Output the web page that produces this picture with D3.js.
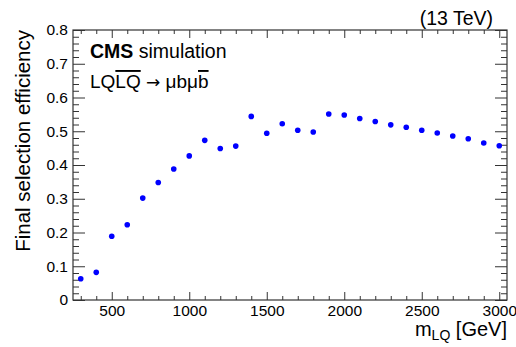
<!DOCTYPE html>
<html>
<head>
<meta charset="utf-8">
<script src="https://cdn.jsdelivr.net/npm/d3@7"></script>
<style>
  body { margin: 0; background: #fff; }
  svg text { font-family: "Liberation Sans", Arial, sans-serif; fill: #000; }
</style>
</head>
<body>
<div id="chart"></div>
<script>
// LQ mass points (GeV) and the final selection efficiency at each one
var masses = [300, 400, 500, 600, 700, 800, 900, 1000, 1100, 1200, 1300, 1400, 1500, 1600,
              1700, 1800, 1900, 2000, 2100, 2200, 2300, 2400, 2500, 2600, 2700, 2800, 2900, 3000];
var efficiency = [0.063, 0.082, 0.189, 0.223, 0.302, 0.348, 0.388, 0.427, 0.473, 0.449, 0.456, 0.544, 0.494, 0.522,
                  0.503, 0.498, 0.551, 0.548, 0.538, 0.529, 0.519, 0.512, 0.503, 0.495, 0.486, 0.478, 0.465, 0.457];

var xMajor = [500, 1000, 1500, 2000, 2500, 3000];
var xMinor = [300, 400, 600, 700, 800, 900, 1100, 1200, 1300, 1400, 1600, 1700, 1800, 1900,
              2100, 2200, 2300, 2400, 2600, 2700, 2800, 2900];
var yMajor = [0, 0.1, 0.2, 0.3, 0.4, 0.5, 0.6, 0.7, 0.8];
var yMinor = [0.02, 0.04, 0.06, 0.08, 0.12, 0.14, 0.16, 0.18, 0.22, 0.24, 0.26, 0.28,
              0.32, 0.34, 0.36, 0.38, 0.42, 0.44, 0.46, 0.48, 0.52, 0.54, 0.56, 0.58,
              0.62, 0.64, 0.66, 0.68, 0.72, 0.74, 0.76, 0.78];

var W = 516, H = 347;
var margin = {top: 30, right: 9, bottom: 47, left: 73};
var width = W - margin.left - margin.right;
var height = H - margin.top - margin.bottom;

var svg = d3.select("#chart").append("svg")
    .attr("width", W)
    .attr("height", H);

var g = svg.append("g")
    .attr("transform", "translate(" + margin.left + "," + margin.top + ")");

var x = d3.scaleLinear().domain([250, 3050]).range([0, width]);
var y = d3.scaleLinear().domain([0, 0.8]).range([height, 0]);

// helper: add an axis with ticks pointing into the frame
function addAxis(axis, transform) {
  var a = g.append("g")
      .attr("class", "axis")
      .attr("transform", transform || null)
      .call(axis);
  a.select(".domain").remove();
  return a;
}

// bottom
addAxis(d3.axisBottom(x).tickValues(xMajor).tickSize(-8).tickSizeOuter(0).tickPadding(5).tickFormat(d3.format("d")),
        "translate(0," + height + ")")
  .selectAll("text").style("font-size", "15.5px");
addAxis(d3.axisBottom(x).tickValues(xMinor).tickSize(-4).tickSizeOuter(0).tickFormat(""), "translate(0," + height + ")");
// top
addAxis(d3.axisTop(x).tickValues(xMajor).tickSize(-8).tickSizeOuter(0).tickFormat(""));
addAxis(d3.axisTop(x).tickValues(xMinor).tickSize(-4).tickSizeOuter(0).tickFormat(""));
// left
addAxis(d3.axisLeft(y).tickValues(yMajor).tickSize(-12).tickSizeOuter(0).tickPadding(5)
    .tickFormat(function(d) { return d === 0 ? "0" : d3.format(".1f")(d); }))
  .selectAll("text").style("font-size", "15.5px");
addAxis(d3.axisLeft(y).tickValues(yMinor).tickSize(-6).tickSizeOuter(0).tickFormat(""));
// right
addAxis(d3.axisRight(y).tickValues(yMajor).tickSize(-12).tickSizeOuter(0).tickFormat(""), "translate(" + width + ",0)");
addAxis(d3.axisRight(y).tickValues(yMinor).tickSize(-6).tickSizeOuter(0).tickFormat(""), "translate(" + width + ",0)");

g.selectAll(".axis line").attr("stroke", "#333");

// frame
g.append("rect")
    .attr("x", 0).attr("y", 0)
    .attr("width", width).attr("height", height)
    .attr("fill", "none")
    .attr("stroke", "#333")
    .attr("stroke-width", 1.2);

// points
g.selectAll(".dot")
    .data(masses.map(function(m, i) { return [m, efficiency[i]]; }))
    .enter().append("circle")
    .attr("class", "dot")
    .attr("cx", function(d) { return x(d[0]); })
    .attr("cy", function(d) { return y(d[1]); })
    .attr("r", 2.8)
    .attr("fill", "#0000ff");

// y title
svg.append("text")
    .attr("transform", "translate(30," + margin.top + ") rotate(-90)")
    .attr("text-anchor", "end")
    .style("font-size", "20.5px")
    .text("Final selection efficiency");

// x title
var xt = svg.append("text")
    .attr("x", margin.left + width)
    .attr("y", 336)
    .attr("text-anchor", "end")
    .style("font-size", "20px");
xt.append("tspan").text("m");
xt.append("tspan").attr("dy", 4).style("font-size", "14px").text("LQ");
xt.append("tspan").attr("dy", -4).text(" [GeV]");

// energy label
svg.append("text")
    .attr("x", 493)
    .attr("y", 25)
    .attr("text-anchor", "end")
    .style("font-size", "19.5px")
    .text("(13 TeV)");

// CMS label
var cms = svg.append("text")
    .attr("x", 90)
    .attr("y", 58)
    .style("font-size", "19.5px");
cms.append("tspan").style("font-weight", "bold").text("CMS");
cms.append("tspan").text(" simulation");

// process label, overlines for anti-particles
var proc = svg.append("text")
    .attr("x", 90)
    .attr("y", 88)
    .style("font-size", "19px");
proc.append("tspan").text("LQ");
proc.append("tspan").style("text-decoration", "overline").text("LQ");
proc.append("tspan").text(" ");
proc.append("tspan").style("font-family", "'DejaVu Sans'").style("font-size", "17px").text("\u2192");
proc.append("tspan").text(" \u03bcb\u03bc");
proc.append("tspan").style("text-decoration", "overline").text("b");
</script>
</body>
</html>
